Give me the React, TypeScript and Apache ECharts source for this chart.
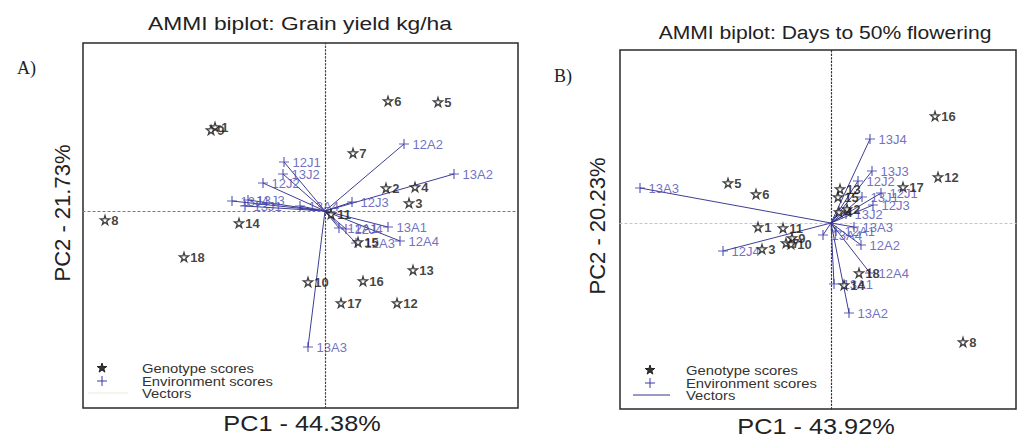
import React, { useEffect, useRef } from "react";
import * as echarts from "echarts";

// ---------- Panel A: Grain yield kg/ha ----------
const genoA_names = ["1", "9", "8", "14", "18", "6", "5", "7", "2", "4", "3", "11", "13", "10", "16", "17", "12", "15"];
const genoA_pc1 = [-11.0, -11.4, -22.0, -8.6, -14.1, 6.3, 11.3, 2.8, 6.1, 9.0, 8.4, 0.6, 8.8, -1.7, 3.8, 1.6, 7.2, 3.3];
const genoA_pc2 = [8.4, 8.1, -0.9, -1.2, -4.6, 11.0, 10.9, 5.8, 2.3, 2.4, 0.8, -0.3, -5.9, -7.1, -7.0, -9.2, -9.2, -3.1];

const envA_names = ["12A2", "13A2", "12J3", "12J1", "13J2", "12J2", "13J4", "13J3", "13J1", "13A4", "12A1", "12J4", "13A1", "12A3", "12A4", "13A3"];
const envA_pc1 = [7.9, 12.9, 2.7, -4.1, -4.2, -6.2, -9.3, -7.7, -8.0, -2.5, 1.4, 2.1, 6.3, 3.1, 7.5, -1.7];
const envA_pc2 = [6.7, 3.7, 0.9, 4.9, 3.7, 2.8, 1.0, 1.1, 0.5, 0.5, -1.7, -1.8, -1.6, -3.2, -3.0, -13.6];

const rangeA_pc1 = [-24.2, 19.3];
const rangeA_pc2 = [-19.7, 16.8];

// ---------- Panel B: Days to 50% flowering ----------
const genoB_names = ["5", "6", "1", "11", "3", "7", "9", "10", "16", "12", "17", "13", "15", "2", "4", "18", "14", "8"];
const genoB_pc1 = [-1.03, -0.75, -0.73, -0.48, -0.69, -0.45, -0.39, -0.4, 1.04, 1.07, 0.72, 0.09, 0.07, 0.16, 0.08, 0.28, 0.13, 1.32];
const genoB_pc2 = [0.4, 0.29, -0.04, -0.05, -0.26, -0.2, -0.15, -0.21, 1.07, 0.46, 0.36, 0.34, 0.26, 0.14, 0.11, -0.5, -0.62, -1.19];

const envB_names = ["13A3", "13J4", "13J3", "12J2", "12J1", "13J1", "12J3", "13J2", "13A3", "13A4", "12A2", "12A4", "13A2", "12J4", "13A1", "12A1"];
const envB_pc1 = [-1.91, 0.39, 0.41, 0.27, 0.5, 0.31, 0.42, 0.15, 0.23, -0.08, 0.3, 0.39, 0.18, -1.08, 0.03, 0.05];
const envB_pc2 = [0.35, 0.84, 0.52, 0.42, 0.3, 0.26, 0.18, 0.09, -0.04, -0.12, -0.22, -0.5, -0.9, -0.28, -0.61, -0.08];

const rangeB_pc1 = [-2.11, 1.85];
const rangeB_pc2 = [-1.86, 1.73];

const titles = ["AMMI biplot: Grain yield kg/ha", "AMMI biplot: Days to 50% flowering"];
const xNames = ["PC1 - 44.38%", "PC1 - 43.92%"];
const yNames = ["PC2 - 21.73%", "PC2 - 20.23%"];
const legendLabels = ["Genotype scores", "Environment scores", "Vectors"];

const STAR = "M50,0 L61,35 L98,35 L68,57 L79,91 L50,70 L21,91 L32,57 L2,35 L39,35 Z";
const PLUS = "M0,5L10,5M5,0L5,10";
echarts.graphic.registerShape("gstar", echarts.graphic.extendPath(STAR, {}));

const FONT = "Liberation Sans, Arial, sans-serif";
const ENV_COLOR = "#3a3aa6";
const VEC_COLOR = "#34348e";

function genoSeries(names: string[], xs: number[], ys: number[], idx: number) {
  return {
    type: "scatter",
    xAxisIndex: idx,
    yAxisIndex: idx,
    data: names.map((n, i) => ({ name: n, value: [xs[i], ys[i]] })),
    symbol: "path://" + STAR,
    symbolSize: 9,
    itemStyle: { color: "#fff", borderColor: "#111", borderWidth: 1.3 },
    label: {
      show: true,
      position: "right",
      distance: 1,
      formatter: "{b}",
      fontSize: 13,
      fontWeight: "bold",
      color: "#111",
      fontFamily: FONT,
    },
    z: 6,
  };
}

function envSeries(names: string[], xs: number[], ys: number[], idx: number) {
  return {
    type: "scatter",
    xAxisIndex: idx,
    yAxisIndex: idx,
    data: names.map((n, i) => ({ name: n, value: [xs[i], ys[i]] })),
    symbol: "path://" + PLUS,
    symbolSize: 10,
    itemStyle: { color: "none", borderColor: ENV_COLOR, borderWidth: 1.2 },
    label: {
      show: true,
      position: "right",
      distance: 1,
      formatter: "{b}",
      fontSize: 13,
      color: "#4b4bb0",
      fontFamily: FONT,
    },
    z: 5,
  };
}

function vecSeries(xs: number[], ys: number[], idx: number) {
  return {
    type: "lines",
    coordinateSystem: "cartesian2d",
    xAxisIndex: idx,
    yAxisIndex: idx,
    data: xs.map((x, i) => ({ coords: [[0, 0], [x, ys[i]]] })),
    lineStyle: { color: VEC_COLOR, width: 1, opacity: 0.95 },
    silent: true,
    z: 4,
  };
}

function axis(gridIndex: number, range: number[], color: string, dash: number[]) {
  return {
    type: "value",
    gridIndex,
    min: range[0],
    max: range[1],
    axisLine: { show: true, onZero: true, lineStyle: { type: dash, color, width: 1.2 } },
    axisTick: { show: false },
    axisLabel: { show: false },
    splitLine: { show: false },
  };
}

function legendGraphics(sx: number, tx: number, y0: number, lineStart: number, lineEnd: number, lineColor: string) {
  const ts = { fontSize: 13, fill: "#333", fontFamily: FONT, verticalAlign: "middle" };
  return [
    { type: "gstar", x: sx - 5, y: y0 - 5, scaleX: 0.1, scaleY: 0.1, style: { fill: "#333", stroke: "#222", lineWidth: 10 } },
    { type: "text", x: tx, y: y0, scaleX: 1.14, style: { ...ts, text: legendLabels[0] } },
    { type: "line", shape: { x1: sx - 5, y1: y0 + 13, x2: sx + 5, y2: y0 + 13 }, style: { stroke: ENV_COLOR, lineWidth: 1 } },
    { type: "line", shape: { x1: sx, y1: y0 + 8, x2: sx, y2: y0 + 18 }, style: { stroke: ENV_COLOR, lineWidth: 1 } },
    { type: "text", x: tx, y: y0 + 13, scaleX: 1.14, style: { ...ts, text: legendLabels[1] } },
    { type: "line", shape: { x1: lineStart, y1: y0 + 25, x2: lineEnd, y2: y0 + 25 }, style: { stroke: lineColor, lineWidth: 1 } },
    { type: "text", x: tx, y: y0 + 25, scaleX: 1.14, style: { ...ts, text: legendLabels[2] } },
  ];
}

export default function App() {
  const ref = useRef<HTMLDivElement>(null);
  useEffect(() => {
    if (!ref.current) return;
    const chart = echarts.init(ref.current, null, { renderer: "svg" });
    const gridStyle = { show: true, borderColor: "#2a2a2a", borderWidth: 1.5, backgroundColor: "transparent" };
    const big = { fill: "#222", fontFamily: FONT, align: "center", verticalAlign: "middle" };
    chart.setOption({
      animation: false,
      backgroundColor: "#fff",
      grid: [
        { left: 83, top: 43, width: 435, height: 365, ...gridStyle },
        { left: 620, top: 50, width: 396, height: 359, ...gridStyle },
      ],
      xAxis: [axis(0, rangeA_pc1, "#777", [2, 3]), axis(1, rangeB_pc1, "#c4c4c4", [2, 3])],
      yAxis: [axis(0, rangeA_pc2, "#444", [1.5, 2]), axis(1, rangeB_pc2, "#333", [1.5, 2])],
      series: [
        vecSeries(envA_pc1, envA_pc2, 0),
        envSeries(envA_names, envA_pc1, envA_pc2, 0),
        genoSeries(genoA_names, genoA_pc1, genoA_pc2, 0),
        vecSeries(envB_pc1, envB_pc2, 1),
        envSeries(envB_names, envB_pc1, envB_pc2, 1),
        genoSeries(genoB_names, genoB_pc1, genoB_pc2, 1),
      ],
      graphic: [
        { type: "text", x: 300, y: 23, scaleX: 1.2, style: { ...big, text: titles[0], fontSize: 19 } },
        { type: "text", x: 825, y: 32, scaleX: 1.11, style: { ...big, text: titles[1], fontSize: 19 } },
        { type: "text", x: 17, y: 68, style: { text: "A)", fontSize: 18, fill: "#222", fontFamily: "Liberation Serif, serif", verticalAlign: "middle" } },
        { type: "text", x: 554, y: 76, style: { text: "B)", fontSize: 18, fill: "#222", fontFamily: "Liberation Serif, serif", verticalAlign: "middle" } },
        { type: "text", x: 302, y: 424, scaleX: 1.15, style: { ...big, text: xNames[0], fontSize: 22 } },
        { type: "text", x: 816, y: 427, scaleX: 1.15, style: { ...big, text: xNames[1], fontSize: 22 } },
        { type: "text", x: 62, y: 213, rotation: Math.PI / 2, style: { ...big, text: yNames[0], fontSize: 22 } },
        { type: "text", x: 597, y: 226, rotation: Math.PI / 2, style: { ...big, text: yNames[1], fontSize: 22 } },
        ...legendGraphics(102, 142, 368, 88, 128, "#ecebd8"),
        ...legendGraphics(650, 686, 370, 633, 670, VEC_COLOR),
      ],
    });
    return () => chart.dispose();
  }, []);
  return <div ref={ref} style={{ position: "fixed", left: 0, top: 0, width: 1018, height: 439 }} />;
}
